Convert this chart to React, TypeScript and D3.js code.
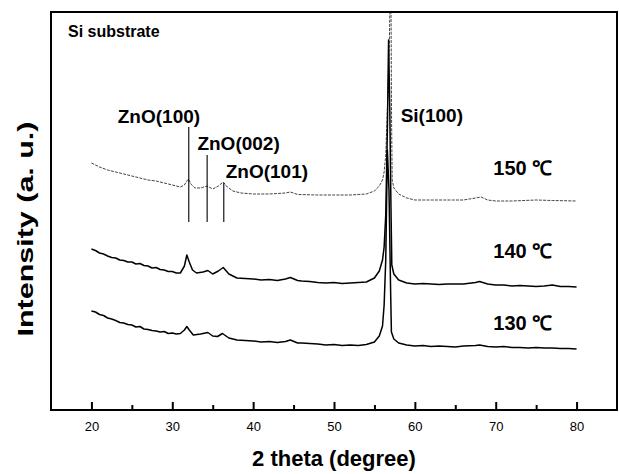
import { useRef, useEffect } from "react";
import * as d3 from "d3";

// 2 theta (degree) / intensity (a.u., curves already offset)
const theta150 = [20, 21, 22, 23, 24, 25, 26, 27, 28, 29, 30, 31, 31.5, 31.8, 32, 32.3, 32.8, 33.5, 34.3, 35, 35.7, 36.3, 36.8, 37.5, 38.5, 40, 42, 44, 44.6, 45.5, 48, 50, 52, 54, 55, 55.6, 56, 56.2, 56.4, 56.6, 56.85, 57.02, 57.12, 57.2, 57.4, 58, 59, 60, 62, 64, 66, 67.5, 68.2, 69, 70, 72, 75, 77, 80];
const int150 = [247, 243, 240, 238, 236, 234, 232, 230, 229, 227, 225, 223, 225, 229, 231, 226, 222, 222, 224, 221, 224, 228, 223, 219, 217, 216, 216, 217, 218, 215.5, 215, 215, 215, 216, 219, 224, 230, 238, 255, 300, 370, 450, 290, 230, 222, 216, 212, 210, 210, 210, 210, 212, 213, 210, 209, 209, 210, 209.5, 209];

const theta140 = [20, 20.5, 21, 21.5, 22, 22.5, 23, 23.5, 24, 24.5, 25, 25.5, 26, 26.5, 27, 27.5, 28, 28.5, 29, 29.5, 30, 30.5, 31, 31.5, 31.8, 32.1, 32.5, 33, 33.8, 34.4, 35, 35.7, 36.3, 37, 38, 39, 40, 41, 42, 43, 44, 44.6, 45.5, 46, 47, 48, 49, 50, 51, 52, 53, 54, 55, 55.6, 56, 56.2, 56.4, 56.6, 56.75, 56.9, 57.05, 57.15, 57.4, 58, 59, 60, 61, 62, 63, 64, 65, 66, 67.5, 68, 69, 70, 71, 72, 73, 74, 75, 76, 77, 78, 79, 80];
const int140 = [161, 159.5, 157, 156, 154, 152.5, 152, 150, 149.5, 148, 148, 146, 146.5, 144.5, 144, 142, 142.5, 140.5, 140, 138.5, 138.5, 137, 137, 144, 155, 148, 140, 137, 138, 139.5, 136, 139, 142.5, 136, 132, 131.5, 131, 130, 130.5, 129.5, 131, 132.5, 129.5, 129, 128.5, 127.5, 127, 127.5, 126.5, 127, 127.5, 128, 132, 139, 150, 163, 195, 280, 370, 300, 200, 145, 136, 130, 127, 126, 126.5, 126, 125.5, 126, 126, 126, 127.5, 128.5, 126, 125, 125, 124, 124.5, 124, 123.5, 124, 125, 123.5, 123.5, 123];

const theta130 = [20, 20.5, 21, 21.5, 22, 22.5, 23, 23.5, 24, 24.5, 25, 25.5, 26, 26.5, 27, 27.5, 28, 28.5, 29, 29.5, 30, 30.5, 31, 31.5, 31.8, 32.1, 32.6, 33.5, 34.4, 35, 35.6, 36.2, 37, 38, 39, 40, 41, 42, 43, 44, 44.6, 45.5, 46, 47, 48, 49, 50, 51, 52, 53, 54, 55, 55.6, 56, 56.2, 56.4, 56.6, 56.8, 57, 57.1, 57.4, 58, 59, 60, 61, 62, 63, 64, 65, 66, 67.5, 68, 69, 70, 71, 72, 73, 74, 75, 76, 77, 78, 79, 80];
const int130 = [99, 98, 95.5, 94.5, 92, 91, 89.5, 87.5, 87, 85.5, 85, 83, 83.5, 81, 80.5, 79.5, 79, 78, 78.5, 76.5, 77, 76, 76.5, 80, 83.5, 80, 75, 76, 77.5, 74, 73.5, 76.5, 72, 70, 69.5, 69, 68, 68.5, 67.5, 68.5, 70, 67, 67, 66.5, 66, 65, 65.5, 64.5, 65, 64.5, 65.5, 68, 74, 84, 105, 150, 260, 220, 120, 78, 71, 67, 65, 64, 64.5, 63.5, 64, 63.5, 63, 64, 64.5, 65, 63.5, 63, 63.5, 62.5, 62.5, 62, 62.5, 62, 62, 61.5, 61.5, 61];

// reflection markers: position, top and bottom of the stick
const markerNames = ["ZnO(100)", "ZnO(002)", "ZnO(101)"];
const markerTheta = [32.04, 34.31, 36.37];
const markerTop = [283, 255, 227];
const markerBottom = [188, 188, 188];

const tempLabels = ["150 \u2103", "140 \u2103", "130 \u2103"];
const tempLevels = [235, 152, 80];

const majorTicks = [20, 30, 40, 50, 60, 70, 80];
const minorTicks = [25, 35, 45, 55, 65, 75];

const W = 619;
const H = 474;
const margin = { top: 12, right: 2, bottom: 64, left: 51 };
const FONT = "'Liberation Sans', Arial, Helvetica, sans-serif";

const App = () => {
  const svgRef = useRef<SVGSVGElement>(null);

  useEffect(() => {
    const svg = d3.select(svgRef.current);
    svg.selectAll("*").remove();

    const innerWidth = W - margin.left - margin.right;
    const innerHeight = H - margin.top - margin.bottom;

    const x = d3.scaleLinear().domain([15, 85]).range([0, innerWidth]);
    const y = d3.scaleLinear().domain([0, 398]).range([innerHeight, 0]);

    const chart = svg
      .append("g")
      .attr("transform", `translate(${margin.left}, ${margin.top})`);

    chart
      .append("clipPath")
      .attr("id", "plot-clip")
      .append("rect")
      .attr("width", innerWidth)
      .attr("height", innerHeight);

    const line = d3
      .line<[number, number]>()
      .x((d) => x(d[0]))
      .y((d) => y(d[1]));

    const series = [
      { t: theta150, v: int150, color: "#444", width: 1, dash: "3 1.2" },
      { t: theta140, v: int140, color: "#000", width: 1.5, dash: null },
      { t: theta130, v: int130, color: "#000", width: 1.5, dash: null },
    ];

    const plot = chart.append("g").attr("clip-path", "url(#plot-clip)");
    series.forEach((s) => {
      plot
        .append("path")
        .datum(s.t.map((t, i) => [t, s.v[i]] as [number, number]))
        .attr("fill", "none")
        .attr("stroke", s.color)
        .attr("stroke-width", s.width)
        .attr("stroke-dasharray", s.dash)
        .attr("stroke-linejoin", "round")
        .attr("d", line);
    });

    // marker sticks
    markerTheta.forEach((t, i) => {
      chart
        .append("line")
        .attr("x1", x(t))
        .attr("x2", x(t))
        .attr("y1", y(markerTop[i]))
        .attr("y2", y(markerBottom[i]))
        .attr("stroke", "#000")
        .attr("stroke-width", 1.1);
    });

    // axis ticks (inward)
    const xAxis = chart
      .append("g")
      .attr("transform", `translate(0, ${innerHeight})`)
      .call(
        d3
          .axisBottom(x)
          .tickValues(majorTicks)
          .tickSizeInner(-8)
          .tickSizeOuter(0)
          .tickPadding(12)
      );
    xAxis.select(".domain").remove();
    xAxis.selectAll("line").attr("stroke-width", 2);
    xAxis
      .selectAll("text")
      .attr("font-family", FONT)
      .attr("font-size", 13)
      .attr("fill", "#000");

    const xMinor = chart
      .append("g")
      .attr("transform", `translate(0, ${innerHeight})`)
      .call(
        d3
          .axisBottom(x)
          .tickValues(minorTicks)
          .tickSizeInner(-5)
          .tickSizeOuter(0)
          .tickFormat(() => "")
      );
    xMinor.select(".domain").remove();
    xMinor.selectAll("line").attr("stroke-width", 2);

    // frame
    chart
      .append("rect")
      .attr("width", innerWidth)
      .attr("height", innerHeight)
      .attr("fill", "none")
      .attr("stroke", "#000")
      .attr("stroke-width", 2);

    // annotations
    const label = (txt: string, px: number, py: number, size: number, anchor = "start") =>
      chart
        .append("text")
        .attr("x", px)
        .attr("y", py)
        .attr("text-anchor", anchor)
        .attr("font-family", FONT)
        .attr("font-weight", "bold")
        .attr("font-size", size)
        .attr("fill", "#000")
        .text(txt);

    label("Si substrate", 68 - margin.left, 37 - margin.top, 16);
    const nameX = [28.35, 38.2, 41.7];
    const nameY = [287, 260, 232];
    markerNames.forEach((n, i) => label(n, x(nameX[i]), y(nameY[i]), 19, "middle"));
    label("Si(100)", x(62.1), y(288), 19, "middle");
    tempLabels.forEach((n, i) => label(n, x(69.7), y(tempLevels[i]), 20));

    // axis titles
    svg
      .append("text")
      .attr("x", margin.left + innerWidth / 2)
      .attr("y", 466)
      .attr("text-anchor", "middle")
      .attr("font-family", FONT)
      .attr("font-weight", "bold")
      .attr("font-size", 22)
      .text("2 theta (degree)");

    svg
      .append("text")
      .attr("transform", "translate(33, 229) rotate(-90)")
      .attr("text-anchor", "middle")
      .attr("font-family", FONT)
      .attr("font-weight", "bold")
      .attr("font-size", 22)
      .attr("textLength", 215)
      .attr("lengthAdjust", "spacingAndGlyphs")
      .text("Intensity (a. u.)");
  }, []);

  return (
    <svg
      ref={svgRef}
      width={W}
      height={H}
      style={{ position: "absolute", left: 0, top: 0, background: "#fff" }}
    />
  );
};

export default App;
